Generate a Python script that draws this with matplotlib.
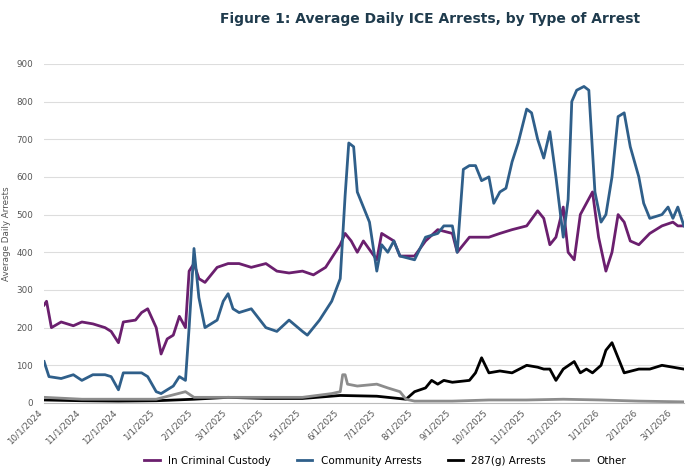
import matplotlib
matplotlib.use("Agg")
import matplotlib.pyplot as plt
import matplotlib.dates as mdates
import pandas as pd

cust_dates = ["2024-10-01","2024-10-03","2024-10-07","2024-10-15","2024-10-25","2024-11-01","2024-11-10","2024-11-20","2024-11-25",
              "2024-12-01","2024-12-05","2024-12-15","2024-12-20","2024-12-25","2025-01-01","2025-01-05","2025-01-10","2025-01-15",
              "2025-01-20","2025-01-25","2025-01-28","2025-02-01","2025-02-05","2025-02-10","2025-02-20","2025-03-01","2025-03-10",
              "2025-03-20","2025-04-01","2025-04-10","2025-04-20","2025-05-01","2025-05-10","2025-05-20","2025-06-01","2025-06-05",
              "2025-06-10","2025-06-15","2025-06-20","2025-07-01","2025-07-05","2025-07-15","2025-07-20","2025-08-01","2025-08-10",
              "2025-08-20","2025-09-01","2025-09-05","2025-09-15","2025-10-01","2025-10-10","2025-10-20","2025-11-01","2025-11-10",
              "2025-11-15","2025-11-20","2025-11-25","2025-12-01","2025-12-05","2025-12-10","2025-12-15","2025-12-20","2025-12-25",
              "2025-12-30","2026-01-05","2026-01-10","2026-01-15","2026-01-20","2026-01-25","2026-02-01","2026-02-10","2026-02-20",
              "2026-03-01","2026-03-05","2026-03-10"]
cust_vals = [260,270,200,215,205,215,210,200,190,160,215,220,240,250,200,130,170,180,230,200,350,370,330,320,360,370,370,
             360,370,350,345,350,340,360,420,450,430,400,430,380,450,430,390,390,430,460,450,400,440,440,450,460,470,510,
             490,420,440,520,400,380,500,530,560,440,350,400,500,480,430,420,450,470,480,470,470]

comm_dates = ["2024-10-01","2024-10-05","2024-10-15","2024-10-25","2024-11-01","2024-11-10","2024-11-20","2024-11-25","2024-12-01",
              "2024-12-05","2024-12-15","2024-12-20","2024-12-25","2025-01-01","2025-01-05","2025-01-15","2025-01-20","2025-01-25",
              "2025-01-28","2025-02-01","2025-02-05","2025-02-10","2025-02-20","2025-02-25","2025-03-01","2025-03-05","2025-03-10",
              "2025-03-20","2025-04-01","2025-04-10","2025-04-20","2025-05-01","2025-05-05","2025-05-15","2025-05-25","2025-06-01",
              "2025-06-05","2025-06-08","2025-06-12","2025-06-15","2025-06-20","2025-06-25","2025-07-01","2025-07-05","2025-07-10",
              "2025-07-15","2025-07-20","2025-08-01","2025-08-10","2025-08-20","2025-08-25","2025-09-01","2025-09-05","2025-09-10",
              "2025-09-15","2025-09-20","2025-09-25","2025-10-01","2025-10-05","2025-10-10","2025-10-15","2025-10-20","2025-10-25",
              "2025-11-01","2025-11-05","2025-11-10","2025-11-15","2025-11-20","2025-11-25","2025-12-01","2025-12-05","2025-12-08",
              "2025-12-12","2025-12-18","2025-12-22","2025-12-27","2026-01-01","2026-01-05","2026-01-10","2026-01-15","2026-01-20",
              "2026-01-25","2026-02-01","2026-02-05","2026-02-10","2026-02-20","2026-02-25","2026-03-01","2026-03-05","2026-03-10"]
comm_vals = [110,70,65,75,60,75,75,70,35,80,80,80,70,30,25,45,70,60,200,410,280,200,220,270,290,250,240,250,200,190,220,
             190,180,220,270,330,550,690,680,560,520,480,350,420,400,430,390,380,440,450,470,470,400,620,630,630,590,600,
             530,560,570,640,690,780,770,700,650,720,600,440,540,800,830,840,830,560,480,500,600,760,770,680,600,530,490,
             500,520,490,520,470]

g287_dates = ["2024-10-01","2024-11-01","2024-12-01","2025-01-01","2025-02-01","2025-03-01","2025-04-01","2025-05-01","2025-06-01",
              "2025-07-01","2025-07-25","2025-08-01","2025-08-10","2025-08-15","2025-08-20","2025-08-25","2025-09-01","2025-09-15",
              "2025-09-20","2025-09-25","2025-10-01","2025-10-10","2025-10-20","2025-11-01","2025-11-10","2025-11-15","2025-11-20",
              "2025-11-25","2025-12-01","2025-12-10","2025-12-15","2025-12-20","2025-12-25","2026-01-01","2026-01-05","2026-01-10",
              "2026-01-15","2026-01-20","2026-02-01","2026-02-10","2026-02-20","2026-03-01","2026-03-10"]
g287_vals = [8,6,5,6,10,15,12,12,20,18,10,30,40,60,50,60,55,60,80,120,80,85,80,100,95,90,90,60,90,110,80,90,80,100,140,
             160,120,80,90,90,100,95,90]

other_dates = ["2024-10-01","2024-11-01","2024-12-01","2025-01-01","2025-01-25","2025-02-01","2025-03-01","2025-04-01","2025-05-01",
               "2025-05-25","2025-06-01","2025-06-03","2025-06-05","2025-06-07","2025-06-15","2025-07-01","2025-07-10","2025-07-20",
               "2025-07-25","2025-08-01","2025-09-01","2025-10-01","2025-11-01","2025-12-01","2026-01-01","2026-02-01","2026-03-10"]
other_vals = [15,10,10,10,30,15,15,15,15,25,30,75,75,50,45,50,40,30,10,5,5,8,8,10,8,5,3]

fig, ax = plt.subplots(figsize=(7, 4.73), dpi=100)
fig.subplots_adjust(left=0.063, right=0.977, top=0.865, bottom=0.148)

ax.plot(pd.to_datetime(cust_dates), cust_vals, color="#6b1f6e", lw=2.0, label="In Criminal Custody")
ax.plot(pd.to_datetime(comm_dates), comm_vals, color="#2f5f8a", lw=2.0, label="Community Arrests")
ax.plot(pd.to_datetime(g287_dates), g287_vals, color="black", lw=2.0, label="287(g) Arrests")
ax.plot(pd.to_datetime(other_dates), other_vals, color="#8c8c8c", lw=2.0, label="Other")

ax.set_ylim(0, 900)
ax.set_yticks(range(0, 901, 100))
ax.set_xlim(pd.Timestamp("2024-10-01"), pd.Timestamp("2026-03-10"))
ax.set_xticks(pd.date_range("2024-10-01", "2026-03-01", freq="MS"))
ax.xaxis.set_major_formatter(mdates.DateFormatter("%-m/%-d/%Y"))
plt.setp(ax.get_xticklabels(), rotation=45, ha="right", fontsize=6.3, color="#555555")
ax.tick_params(axis="y", labelsize=6.3, colors="#555555", length=0, pad=8)
ax.tick_params(axis="x", length=0)
ax.grid(axis="y", color="#dddddd", lw=0.8)
ax.set_axisbelow(True)
for s in ["top", "right", "left"]:
    ax.spines[s].set_visible(False)
ax.spines["bottom"].set_color("#bbbbbb")
ax.set_ylabel("Average Daily Arrests", fontsize=6.3, color="#555555")

fig.suptitle("Figure 1: Average Daily ICE Arrests, by Type of Arrest", x=0.615, y=0.975,
             fontsize=10, fontweight="bold", color="#1f3b4d")
fig.legend(loc="lower center", ncol=4, frameon=False, fontsize=7.5, bbox_to_anchor=(0.55, -0.005),
           handlelength=1.5, columnspacing=2.5)

fig.savefig("out.png")
